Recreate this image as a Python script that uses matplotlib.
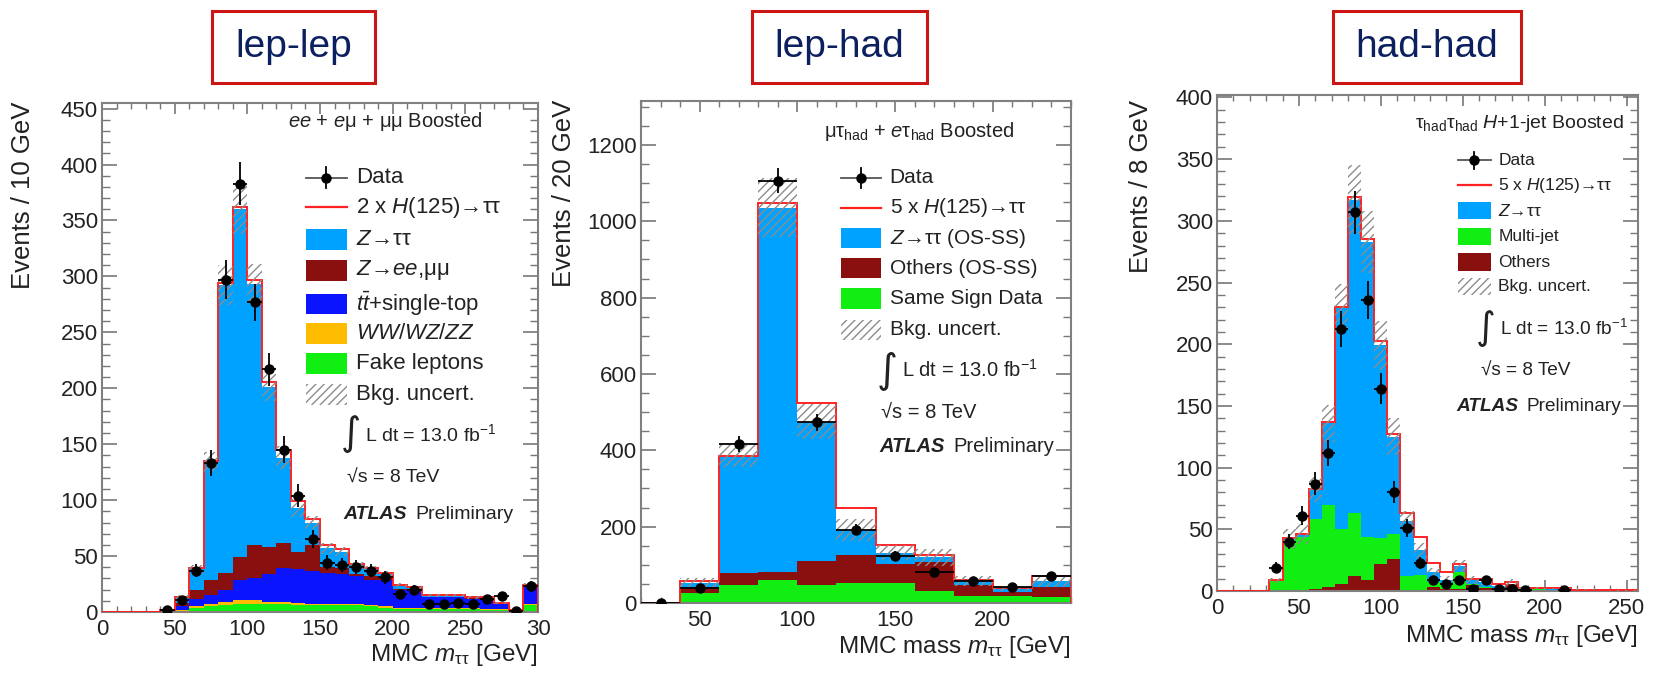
import numpy as np
import matplotlib
matplotlib.use("Agg")
import matplotlib.pyplot as plt
from matplotlib.patches import Rectangle
from matplotlib.lines import Line2D

plt.rcParams['font.family'] = ['Liberation Sans', 'DejaVu Sans']
plt.rcParams['mathtext.fontset'] = 'custom'
plt.rcParams['mathtext.rm'] = 'Liberation Sans'
plt.rcParams['mathtext.it'] = 'Liberation Sans:italic'
plt.rcParams['mathtext.bf'] = 'Liberation Sans:bold'
plt.rcParams['hatch.linewidth'] = 1.0

nan = np.nan

# colours
C_ZTT = '#00a2ff'
C_BROWN = '#8a1010'
C_TOP = '#0a14ff'
C_VV = '#ffbb00'
C_GREEN = '#11ee11'
C_RED = '#ff2222'
C_HATCH = '#8c8c8c'

# ---------------- lep-lep (10 GeV bins, 0-300)
ll_edges = np.arange(0, 310, 10)
ll_fake = [0, 0, 0, 0, 0.3, 1, 4, 5, 6, 7, 7, 7, 7, 6, 6, 6, 6, 6, 5, 4, 3, 3, 3, 3, 3, 3, 2, 2, 0.2, 6]
ll_vv = [0, 0, 0, 0, 0, 0.5, 1, 2, 3, 4, 4, 2, 2, 2, 1, 1, 1, 1, 1, 1, 1, 1, 0.5, 0.5, 0.5, 0.5, 0.5, 0.5, 0.1, 1]
ll_top = [0, 0, 0, 0, 0.7, 3.5, 7, 8, 11, 18, 19, 25, 30, 30, 30, 28, 27, 25, 23, 24, 16, 16, 9.5, 9.5, 9.5, 8.5, 9.5, 4.5, 0.7, 15]
ll_zll = [0, 0, 0, 0, 0.5, 3, 8, 14, 15, 20, 30, 24, 23, 16, 23, 5, 5, 2, 3, 1, 1, 1, 0.5, 0.5, 0.5, 0.5, 0.5, 0.5, 0.2, 1]
ll_ztt = [0, 0, 0, 0, 0.5, 5, 18, 104, 257, 311, 233, 143, 76, 39, 20, 17, 15, 8, 6, 4, 3, 1, 1.5, 1, 1, 0.5, 0.5, 0.5, 0.3, 1]
ll_sig = [0, 0, 0, 0, 0.2, 0.5, 1, 2, 2, 2, 4, 5, 7, 6, 3, 3, 2, 1, 1, 1, 0.5, 0.5, 0.3, 0.3, 0.3, 0.2, 0.2, 0.2, 0.1, 0.3]
ll_unc = [0, 0, 0, 0, 0.5, 2, 4, 10, 18, 22, 18, 12, 10, 8, 6, 5, 4, 3, 3, 2.5, 2, 2, 1.5, 1.5, 1.5, 1.5, 1.5, 1, 0.5, 2]
ll_data = [nan, nan, nan, nan, 2, 11, 37, 133, 297, 383, 277, 217, 145, 104, 65, 44, 42, 40, 37, 31,
           16, 20, 7, 7, 8, 7, 12, 14, 1, 23]

# ---------------- lep-had (20 GeV bins, 20-240)
lh_edges = np.arange(20, 260, 20)
lh_ss = [0, 26, 46, 61, 48, 53, 53, 31, 18, 18, 15]
lh_oth = [0, 17, 32, 21, 62, 72, 49, 76, 30, 10, 28]
lh_ztt = [0, 10, 307, 954, 365, 67, 30, 13, 10, 10, 15]
lh_sig = [0.5, 5, 1, 13, 49, 56, 20, 5, 2, 2, 13]
lh_unc = [0, 12, 30, 78, 45, 29, 20, 22, 13, 6, 16]
lh_data = [0, 40, 417, 1106, 473, 192, 124, 82, 57, 43, 70]

# ---------------- had-had (8 GeV bins, 0-256)
hh_edges = np.arange(0, 264, 8)
hh_oth = [0, 0, 0, 0, 0, 0.3, 1, 1.5, 3, 5.5, 12, 9, 22, 26, 1, 1, 3, 2, 1.5, 5, 2.5, 2, 5.5, 1, 0.5, 0.3, 0.3, 0.2, 0.2, 0.1, 0.1, 0]
hh_mj = [0, 0, 0, 0, 8, 41, 43, 56.5, 67, 44.5, 51, 35, 21, 20, 11, 12, 4, 4, 13.5, 1, 1, 0.5, 0, 0.5, 1, 0.7, 0.5, 0.3, 0.3, 0.2, 0.1, 0.1]
hh_ztt = [0, 0, 0, 0, 0.5, 1, 2, 24, 66, 179, 254, 239, 156, 79, 45, 20, 8, 3, 5, 3, 3.5, 1.5, 0.5, 1, 1, 1, 1.2, 0.5, 0.5, 0.5, 0.3, 0.2]
hh_sig = [0, 0, 0, 0, 0.3, 0.7, 0.5, 1, 1, 1, 2, 2, 4, 2, 6, 11, 8, 6, 2, 1, 3, 1.5, 1, 0.3, 0.3, 0.2, 0.2, 0.2, 0.2, 0.2, 0.3, 0.4]
hh_unc = [0, 0, 0, 0, 2, 8, 8, 10, 15, 20, 28, 25, 20, 15, 8, 6, 4, 3, 5, 3, 2, 1, 4, 1, 1, 0.5, 0.5, 0.5, 0.3, 0.3, 0.3, 0.3]
hh_data = [nan, nan, nan, nan, 19, 40, 61, 87, 112, 212, 307, 236, 164, 80, 51, 23, 9, 6, 9, 2, 9, 2, 2, 1,
           nan, nan, 1, nan, nan, nan, nan, nan]

W, H = 1655, 674
fig = plt.figure(figsize=(W / 100, H / 100), dpi=100)


def px_axes(l, r, t, b):
    return fig.add_axes([l / W, 1 - b / H, (r - l) / W, (b - t) / H])


def draw_stack(ax, edges, comps, colors, sig, unc, data):
    edges = np.asarray(edges, float)
    bottom = np.zeros(len(edges) - 1)
    for vals, col in zip(comps, colors):
        top = bottom + np.asarray(vals, float)
        ax.stairs(top, edges, baseline=bottom, fill=True, color=col, lw=0, zorder=2)
        bottom = top
    unc = np.asarray(unc, float)
    ax.stairs(bottom + np.asarray(sig), edges, color=C_RED, lw=1.4, zorder=3)
    ax.stairs(bottom + unc, edges, baseline=bottom - unc, fill=True, facecolor='none',
              edgecolor=C_HATCH, hatch='////', lw=0, zorder=4)
    centers = 0.5 * (edges[1:] + edges[:-1])
    half = 0.5 * np.diff(edges)
    data = np.asarray(data, float)
    ax.errorbar(centers, data, yerr=np.sqrt(data), xerr=half, fmt='o', color='black',
                ms=6.5, elinewidth=1.3, capsize=0, zorder=5)


def style(ax, xlim, ylim, xmaj, xmin, ymaj, ymin):
    ax.set_xlim(*xlim)
    ax.set_ylim(*ylim)
    ax.xaxis.set_major_locator(plt.MultipleLocator(xmaj))
    ax.xaxis.set_minor_locator(plt.MultipleLocator(xmin))
    ax.yaxis.set_major_locator(plt.MultipleLocator(ymaj))
    ax.yaxis.set_minor_locator(plt.MultipleLocator(ymin))
    ax.tick_params(which='both', direction='in', top=True, right=True, color='#777777',
                   labelcolor='#222222', labelsize=16)
    ax.tick_params(axis='y', which='major', length=11, width=1.2, pad=3)
    ax.tick_params(axis='y', which='minor', length=6, width=1.0)
    ax.tick_params(axis='x', which='major', length=8, width=1.2, pad=5)
    ax.tick_params(axis='x', which='minor', length=4.5, width=1.0)
    for s in ax.spines.values():
        s.set_color('#808080')
        s.set_linewidth(1.5)


def legend(ax, x0, x1, xt, ys, h, entries, fs):
    for y, (kind, label) in zip(ys, entries):
        if kind == 'data':
            ax.add_line(Line2D([x0, x1], [y, y], color='#555555', lw=1.3, transform=ax.transAxes, clip_on=False))
            ax.add_line(Line2D([(x0 + x1) / 2] * 2, [y - h / 2, y + h / 2], color='black', lw=1.3,
                               transform=ax.transAxes, clip_on=False))
            ax.add_line(Line2D([(x0 + x1) / 2], [y], marker='o', ms=6.5, color='black',
                               transform=ax.transAxes, clip_on=False))
        elif kind == 'line':
            ax.add_line(Line2D([x0, x1], [y, y], color=C_RED, lw=1.6, transform=ax.transAxes, clip_on=False))
        elif kind == 'hatch':
            ax.add_patch(Rectangle((x0, y - h / 2), x1 - x0, h, transform=ax.transAxes, facecolor='none',
                                   edgecolor=C_HATCH, hatch='////', lw=0, clip_on=False))
        else:
            ax.add_patch(Rectangle((x0, y - h / 2), x1 - x0, h, transform=ax.transAxes, color=kind,
                                   lw=0, clip_on=False))
        ax.text(xt, y, label, transform=ax.transAxes, fontsize=fs, va='center', ha='left', color='#222222')


def lumi(ax, xi, y_int, x_s, y_s, x_a, y_a, fs):
    ti = ax.text(xi, y_int, '∫', transform=ax.transAxes, fontsize=fs * 2.0, va='center', ha='left',
                 family='DejaVu Sans', color='#222222')
    ax.annotate('L dt = 13.0 fb$^{\\mathrm{-1}}$', xy=(1, 0.5), xycoords=ti, xytext=(3, 0),
                textcoords='offset points', fontsize=fs, va='center', ha='left', color='#222222')
    ax.text(x_s, y_s, '√s = 8 TeV', transform=ax.transAxes, fontsize=fs, va='center', ha='left',
            color='#222222')
    t = ax.text(x_a, y_a, 'ATLAS', transform=ax.transAxes, fontsize=fs, va='center', ha='left',
                fontweight='bold', fontstyle='italic', color='#222222')
    ax.annotate('Preliminary', xy=(1, 0.5), xycoords=t, xytext=(6, 0), textcoords='offset points',
                fontsize=fs, va='center', ha='left', color='#222222')


def title_box(x0, x1, label):
    y0, y1 = 11, 83
    fig.add_artist(Rectangle((x0 / W, 1 - y1 / H), (x1 - x0) / W, (y1 - y0) / H, transform=fig.transFigure,
                             fill=False, edgecolor='#cc1515', lw=2.2))
    fig.text((x0 + x1) / 2 / W, 1 - (y0 + y1) / 2 / H, label, ha='center', va='center', fontsize=28,
             color='#0c2060')


# ---------------- panel 1
ax1 = px_axes(102, 538, 103, 612)
draw_stack(ax1, ll_edges, [ll_fake, ll_vv, ll_top, ll_zll, ll_ztt],
           [C_GREEN, C_VV, C_TOP, C_BROWN, C_ZTT], ll_sig, ll_unc, ll_data)
style(ax1, (0, 300), (0, 455), 50, 10, 50, 10)
ax1.set_xticks(np.arange(0, 301, 50))
ax1.set_xticklabels(['0', '50', '100', '150', '200', '250', '30'])
ax1.text(0.872, 0.964, '$ee$ + $e$μ + μμ Boosted', transform=ax1.transAxes, fontsize=14.5,
         ha='right', va='center', color='#222222')
legend(ax1, 0.467, 0.561, 0.582, [0.853, 0.795, 0.731, 0.671, 0.605, 0.548, 0.488, 0.428], 0.041,
       [('data', 'Data'), ('line', '2 x $H$(125)→ττ'), (C_ZTT, '$Z$→ττ'), (C_BROWN, '$Z$→$ee$,μμ'),
        (C_TOP, '$t\\bar{t}$+single-top'), (C_VV, '$WW/WZ/ZZ$'), (C_GREEN, 'Fake leptons'),
        ('hatch', 'Bkg. uncert.')], 16)
lumi(ax1, 0.548, 0.349, 0.561, 0.263, 0.553, 0.191, 14)
fig.text(23 / W, 1 - 102 / H, 'Events / 10 GeV', rotation=90, ha='center', va='top', fontsize=18.5,
         color='#222222')
fig.text(538 / W, 1 - 655 / H, 'MMC $m_{\\mathrm{\\tau\\tau}}$ [GeV]', ha='right', va='center',
         fontsize=17.5, color='#222222')

# ---------------- panel 2
ax2 = px_axes(641, 1071, 101, 603)
draw_stack(ax2, lh_edges, [lh_ss, lh_oth, lh_ztt], [C_GREEN, C_BROWN, C_ZTT], lh_sig, lh_unc, lh_data)
style(ax2, (20, 240), (0, 1315), 50, 10, 200, 50)
ax2.text(0.869, 0.94, '$\\mathrm{\\mu\\tau_{had}}$ + $e\\mathrm{\\tau_{had}}$ Boosted', transform=ax2.transAxes,
         fontsize=14.5, ha='right', va='center', color='#222222')
legend(ax2, 0.466, 0.558, 0.578, [0.847, 0.787, 0.727, 0.667, 0.606, 0.544], 0.041,
       [('data', 'Data'), ('line', '5 x $H$(125)→ττ'), (C_ZTT, '$Z$→ττ (OS-SS)'),
        (C_BROWN, 'Others (OS-SS)'), (C_GREEN, 'Same Sign Data'), ('hatch', 'Bkg. uncert.')], 15)
lumi(ax2, 0.548, 0.465, 0.558, 0.380, 0.554, 0.311, 14.5)
fig.text(564 / W, 1 - 100 / H, 'Events / 20 GeV', rotation=90, ha='center', va='top', fontsize=18.5,
         color='#222222')
fig.text(1071 / W, 1 - 647 / H, 'MMC mass $m_{\\mathrm{\\tau\\tau}}$ [GeV]', ha='right', va='center',
         fontsize=17.5, color='#222222')

# ---------------- panel 3
ax3 = px_axes(1217, 1638, 95, 591)
draw_stack(ax3, hh_edges, [hh_oth, hh_mj, hh_ztt], [C_BROWN, C_GREEN, C_ZTT], hh_sig, hh_unc, hh_data)
style(ax3, (0, 257), (0, 402), 50, 10, 50, 10)
ax3.text(0.966, 0.943, '$\\mathrm{\\tau_{had}\\tau_{had}}$ $H$+1-jet Boosted', transform=ax3.transAxes,
         fontsize=14, ha='right', va='center', color='#222222')
legend(ax3, 0.572, 0.650, 0.668, [0.868, 0.818, 0.767, 0.715, 0.663, 0.614], 0.035,
       [('data', 'Data'), ('line', '5 x $H$(125)→ττ'), (C_ZTT, '$Z$→ττ'), (C_GREEN, 'Multi-jet'),
        (C_BROWN, 'Others'), ('hatch', 'Bkg. uncert.')], 12.5)
lumi(ax3, 0.615, 0.529, 0.628, 0.444, 0.569, 0.372, 13.7)
fig.text(1141 / W, 1 - 100 / H, 'Events / 8 GeV', rotation=90, ha='center', va='top', fontsize=18.5,
         color='#222222')
fig.text(1638 / W, 1 - 636 / H, 'MMC mass $m_{\\mathrm{\\tau\\tau}}$ [GeV]', ha='right', va='center',
         fontsize=17.5, color='#222222')

# ---------------- title boxes
title_box(212, 375, 'lep-lep')
title_box(752, 927, 'lep-had')
title_box(1333, 1521, 'had-had')

fig.savefig('out.png', dpi=100)
